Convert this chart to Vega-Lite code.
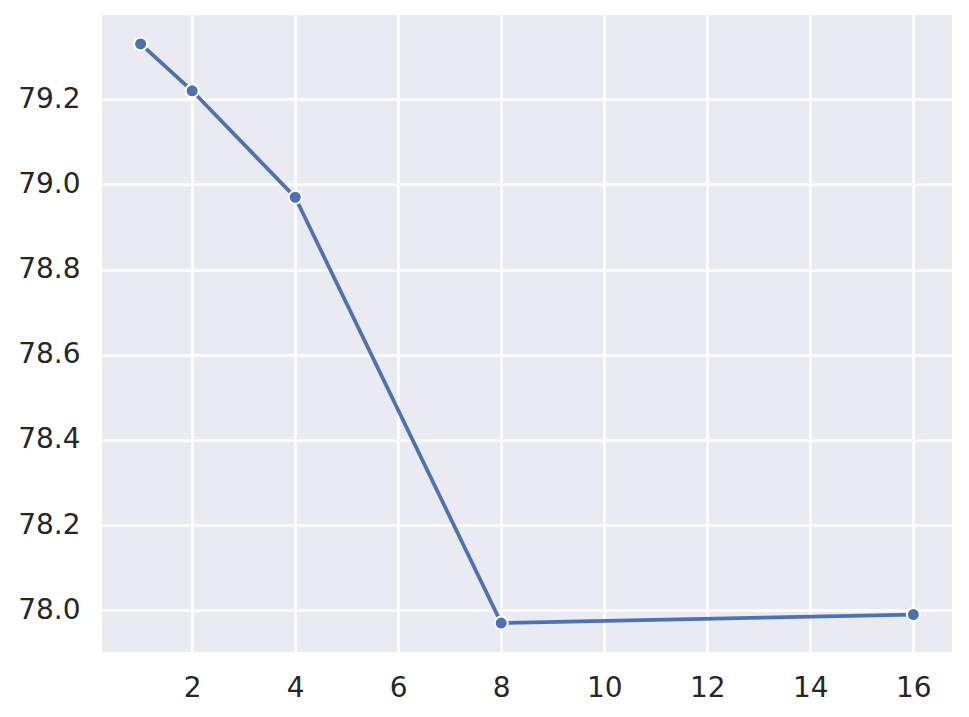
{
  "$schema": "https://vega.github.io/schema/vega-lite/v6.json",
  "width": 850,
  "height": 637,
  "autosize": "none",
  "padding": {"left": 102, "top": 15, "right": 17, "bottom": 65},
  "background": "white",
  "config": {
    "view": {"fill": "#EAEAF2", "stroke": null},
    "axis": {
      "domain": false,
      "ticks": false,
      "grid": true,
      "gridColor": "white",
      "gridWidth": 2.5,
      "labelFont": "DejaVu Sans",
      "labelFontSize": 28,
      "labelColor": "#262626",
      "labelPadding": 22,
      "title": null
    }
  },
  "data": {
    "values": [
      {"k": 1, "v": 79.33},
      {"k": 2, "v": 79.22},
      {"k": 4, "v": 78.97},
      {"k": 8, "v": 77.97},
      {"k": 16, "v": 77.99}
    ]
  },
  "encoding": {
    "x": {
      "field": "k",
      "type": "quantitative",
      "scale": {"domain": [0.25, 16.75], "nice": false, "zero": false},
      "axis": {"values": [2, 4, 6, 8, 10, 12, 14, 16], "labelFlush": false}
    },
    "y": {
      "field": "v",
      "type": "quantitative",
      "scale": {"domain": [77.902, 79.398], "nice": false, "zero": false},
      "axis": {"values": [78.0, 78.2, 78.4, 78.6, 78.8, 79.0, 79.2], "format": ".1f", "labelFlush": false}
    }
  },
  "layer": [
    {"mark": {"type": "line", "color": "#4C72B0", "strokeWidth": 3.75}},
    {"mark": {"type": "point", "filled": true, "fill": "#4C72B0", "stroke": "white", "strokeWidth": 2, "size": 170, "opacity": 1}}
  ]
}
